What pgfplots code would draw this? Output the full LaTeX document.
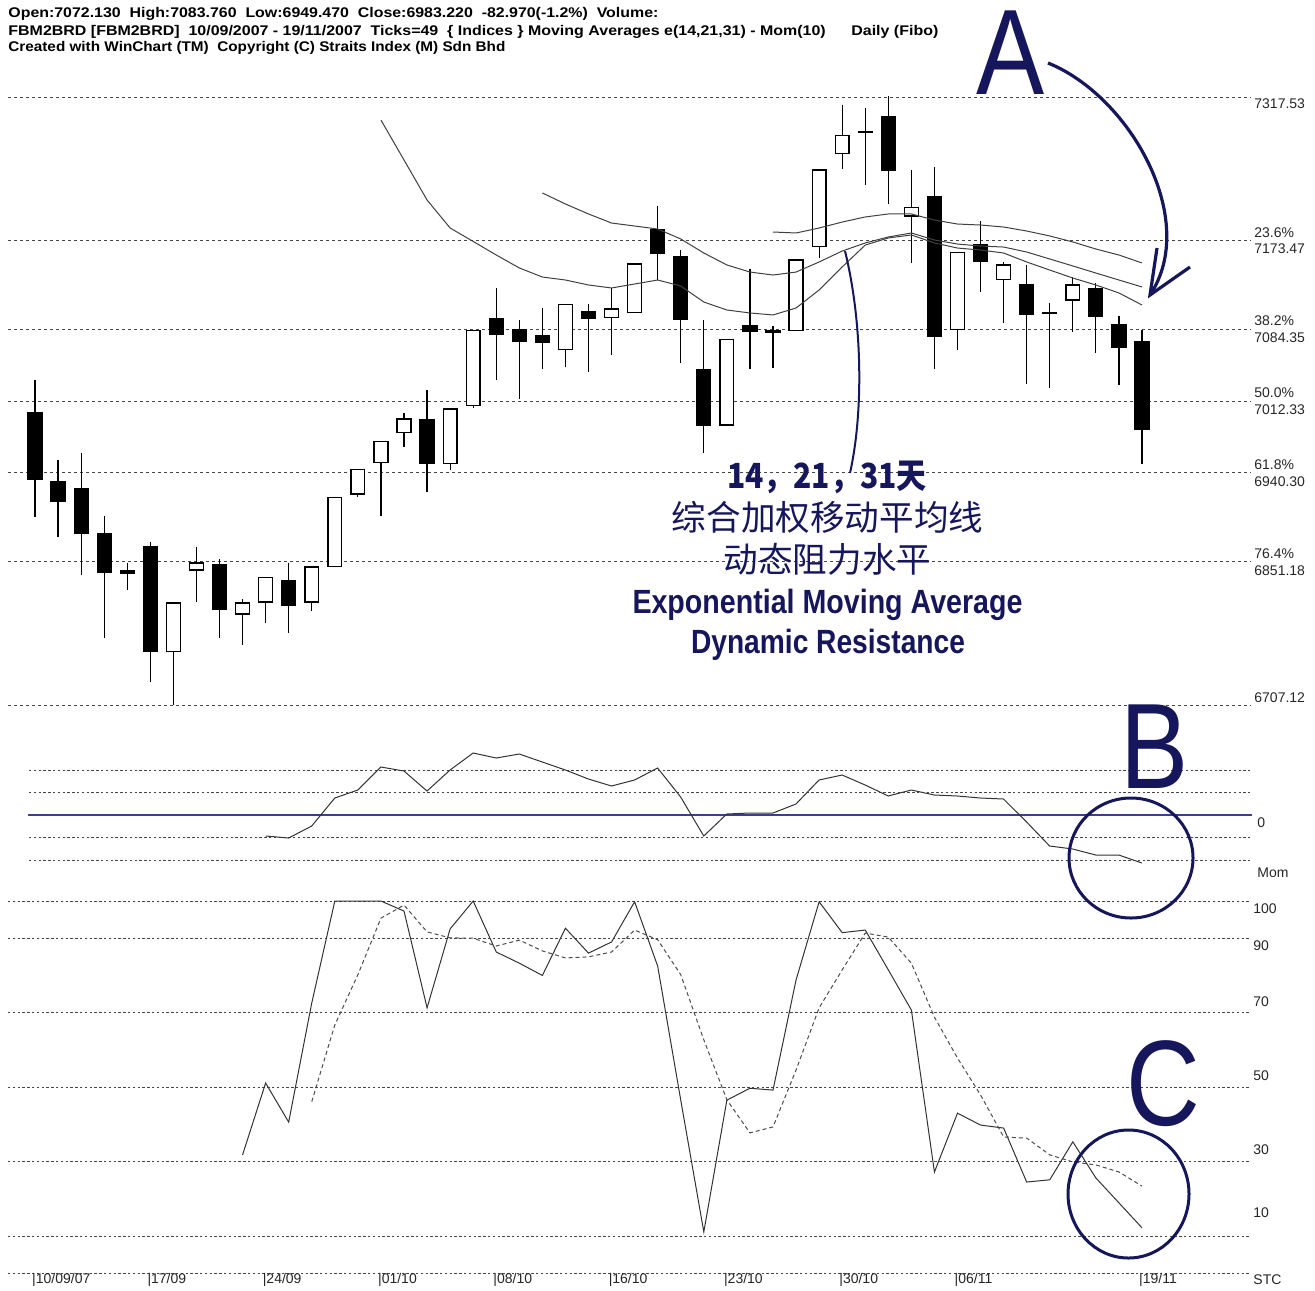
\documentclass[border=0pt]{standalone}
\usepackage{pgfplots}
\usepackage{pgfplotstable}
\pgfplotsset{compat=1.18}
\usepackage{graphicx}
\usepackage{fontspec}
\setmainfont{Liberation Sans}
\newfontfamily\cjk{Noto Sans CJK SC}
\definecolor{navy}{RGB}{22,22,92}
\definecolor{zline}{RGB}{62,62,140}
\definecolor{gridc}{RGB}{70,70,70}

\pgfplotstableread{
i O H L C
0 7001.6 7033.4 6896.1 6933.0
1 6932.0 6953.1 6876.1 6910.9
2 6925.0 6960.1 6837.6 6878.8
3 6879.8 6897.1 6774.7 6839.9
4 6842.6 6850.0 6822.6 6838.6
5 6867.0 6870.7 6730.5 6760.6
6 6760.6 6809.5 6707.1 6809.5
7 6842.6 6866.0 6810.5 6849.7
8 6848.7 6853.7 6774.4 6802.5
9 6798.5 6813.5 6767.3 6809.5
10 6810.5 6834.9 6789.4 6834.9
11 6832.6 6850.0 6779.7 6806.8
12 6810.5 6845.6 6801.8 6845.6
13 6845.9 6915.2 6845.9 6915.2
14 6918.9 6943.7 6916.2 6943.7
15 6950.4 6971.4 6897.1 6971.4
16 6980.9 6999.9 6966.4 6994.2
17 6994.2 7023.3 6921.2 6948.7
18 6949.7 7004.3 6943.0 7004.3
19 7007.6 7082.9 7005.6 7082.9
20 7095.3 7126.0 7033.4 7078.6
21 7084.6 7093.6 7014.3 7071.2
22 7078.6 7105.4 7044.1 7070.2
23 7064.2 7109.4 7046.7 7109.4
24 7102.7 7109.4 7041.1 7094.6
25 7096.3 7125.4 7058.5 7104.7
26 7101.0 7149.8 7101.0 7149.8
27 7185.0 7208.1 7133.8 7159.9
28 7158.2 7163.9 7050.7 7093.6
29 7044.4 7093.6 6959.8 6987.5
30 6988.2 7074.2 6988.2 7074.2
31 7088.6 7144.5 7044.1 7081.9
32 7083.6 7087.6 7045.1 7080.9
33 7082.9 7153.9 7082.9 7153.9
34 7167.2 7244.2 7155.6 7244.2
35 7261.0 7309.5 7244.9 7278.6
36 7282.0 7306.2 7229.2 7282.7
37 7298.4 7318.5 7209.8 7243.5
38 7198.0 7244.2 7150.5 7206.8
39 7218.1 7246.9 7044.1 7076.9
40 7084.3 7161.6 7063.5 7161.6
41 7169.9 7193.0 7122.0 7151.5
42 7134.5 7152.1 7090.3 7148.8
43 7129.8 7148.8 7029.4 7098.6
44 7101.3 7111.0 7025.6 7099.9
45 7113.7 7136.5 7081.9 7128.8
46 7125.4 7131.1 7060.2 7096.9
47 7089.3 7097.6 7028.4 7065.2
48 7072.13 7083.76 6949.47 6983.22
}\candles

\pgfplotstableread{
i v
15 7294.4
16 7254.3
17 7214.1
18 7186.0
19 7172.5
20 7158.9
21 7145.9
22 7136.8
23 7133.8
24 7128.8
25 7125.8
26 7129.8
27 7133.8
28 7127.8
29 7111.7
30 7103.7
31 7100.7
32 7098.7
33 7105.7
34 7123.8
35 7146.9
36 7168.9
37 7176.0
38 7179.0
39 7171.0
40 7165.9
41 7163.9
42 7160.9
43 7151.9
44 7143.8
45 7135.8
46 7128.8
47 7120.8
48 7108.7
}\emaA

\pgfplotstableread{
i v
22 7221.2
23 7210.1
24 7200.1
25 7191.0
26 7188.0
27 7185.0
28 7175.0
29 7160.9
30 7148.9
31 7141.8
32 7138.8
33 7141.8
34 7151.9
35 7162.9
36 7171.0
37 7177.0
38 7181.0
39 7174.0
40 7169.9
41 7167.9
42 7166.9
43 7161.9
44 7154.9
45 7147.9
46 7140.8
47 7133.8
48 7126.8
}\emaB

\pgfplotstableread{
i v
32 7182.0
33 7181.0
34 7186.0
35 7192.0
36 7197.1
37 7200.1
38 7200.1
39 7194.0
40 7190.0
41 7189.0
42 7187.0
43 7183.0
44 7178.0
45 7172.0
46 7164.9
47 7158.9
48 7150.9
}\emaC

\pgfplotstableread{
i v
10 -84
11 -92
12 -44
13 68
14 100
15 192
16 176
17 96
18 180
19 248
20 228
21 244
22 212
23 180
24 144
25 116
26 140
27 188
28 72
29 -84
30 4
31 8
32 8
33 44
34 140
35 160
36 120
37 76
38 100
39 80
40 76
41 68
42 64
43 -28
44 -124
45 -136
46 -160
47 -160
48 -192
}\mom

\pgfplotstableread{
i v
9 31.8
10 51.1
11 40.6
12 72.6
13 100
14 100
15 100
16 97.3
17 71.3
18 92.5
19 100
20 86.3
21 83.3
22 80.0
23 92.7
24 86.0
25 89.0
26 99.8
27 82.5
28 46.5
29 11.1
30 46.5
31 49.7
32 49.2
33 78.8
34 99.8
35 91.5
36 92.2
37 81.5
38 70.7
39 27.2
40 43.0
41 39.8
42 39.0
43 24.5
44 25.1
45 35.3
46 25.6
47 18.9
48 12.2
}\stk

\pgfplotstableread{
i v
12 46.1
13 66.7
14 80.2
15 95.4
16 98.9
17 91.7
18 90.1
19 90.0
20 87.9
21 89.5
22 86.6
23 84.7
24 85.0
25 86.3
26 92.2
27 89.6
28 80.2
29 62.7
30 46.6
31 37.7
32 39.3
33 54.6
34 71.3
35 81.5
36 91.4
37 90.3
38 83.3
39 68.8
40 57.8
41 47.9
42 36.6
43 36.3
44 31.8
45 29.9
46 29.1
47 27.2
48 23.4
}\std

\pgfplotsset{
  panel/.style={scale only axis, anchor=north west, axis line style={draw=none},
    xtick=\empty, yticklabel={\relax}, major tick length=0pt, ymajorgrids, clip=false},
  body/.style={draw=none, mark=none, forget plot, restrict x to domain=-5:60,
    error bars/.cd, y dir=minus, y explicit, error mark=none},
}

\begin{document}
\begin{tikzpicture}[x=1pt,y=1pt]
\path[use as bounding box] (0,0) rectangle (657.5,-645);

% header
\begin{scope}[every node/.style={anchor=base west, inner sep=0pt, font=\fontsize{7}{8}\selectfont\bfseries}]
\node at (4,-8.75) {\resizebox{325pt}{\height}{Open:7072.130\ \ High:7083.760\ \ Low:6949.470\ \ Close:6983.220\ \ -82.970(-1.2\%)\ \ Volume:}};
\node at (4,-17.5) {\resizebox{465pt}{\height}{FBM2BRD [FBM2BRD]\ \ 10/09/2007 - 19/11/2007\ \ Ticks=49\ \ \{ Indices \} Moving Averages e(14,21,31) - Mom(10)\hspace{1.6em}Daily (Fibo)}};
\node at (4,-25.75) {\resizebox{248.5pt}{\height}{Created with WinChart (TM)\ \ Copyright (C) Straits Index (M) Sdn Bhd}};
\end{scope}

% price panel
\begin{axis}[panel, at={(4pt,-48.5pt)}, width=621pt, height=304pt,
  xmin=-1.171, xmax=52.689, ymin=6707.12, ymax=7317.53,
  ytick={6707.12,6851.18,6940.30,7012.33,7084.35,7173.47,7317.53},
  major grid style={gridc, line width=0.5pt, dash pattern=on 1.6pt off 1.4pt}]
% wicks
\addplot[body, error bar style={line width=0.6pt, draw=black}]
  table[x=i, y=H, y error minus expr=\thisrow{H}-\thisrow{L}] {\candles};
% black bodies
\addplot[body, error bar style={line width=7.6pt, draw=black}]
  table[x expr={\thisrow{i}+200*(\thisrow{C}>\thisrow{O})}, y=O, y error minus expr=\thisrow{O}-\thisrow{C}] {\candles};
% white bodies: outline then fill
\addplot[body, error bar style={line width=7.6pt, draw=black}]
  table[x expr={\thisrow{i}+200*(\thisrow{C}<\thisrow{O})}, y expr=\thisrow{C}+0.7, y error minus expr=\thisrow{C}-\thisrow{O}+1.4] {\candles};
\addplot[body, error bar style={line width=6.2pt, draw=white}]
  table[x expr={\thisrow{i}+200*(\thisrow{C}<\thisrow{O})}, y expr=\thisrow{C}-0.7, y error minus expr={max(\thisrow{C}-\thisrow{O}-1.4,0)}] {\candles};
% EMAs
\addplot[black!75, line width=0.5pt] table[x=i, y=v] {\emaA};
\addplot[black!75, line width=0.5pt] table[x=i, y=v] {\emaB};
\addplot[black!75, line width=0.5pt] table[x=i, y=v] {\emaC};
\end{axis}

% momentum panel
\begin{axis}[panel, at={(14.5pt,-352.5pt)}, width=610.5pt, height=97.5pt,
  xmin=-0.2602, xmax=52.689, ymin=-340, ymax=440,
  ytick={-180,-90,90,180},
  major grid style={gridc, line width=0.5pt, dash pattern=on 1.2pt off 1.2pt}]
\addplot[zline, line width=1.2pt] coordinates {(-0.30,0) (52.78,0)};
\addplot[black!80, line width=0.5pt] table[x=i, y=v] {\mom};
\end{axis}

% stochastic panel
\begin{axis}[panel, at={(4pt,-450.5pt)}, width=621pt, height=186.1pt,
  xmin=-1.171, xmax=52.689, ymin=0, ymax=100,
  ytick={0,10,30,50,70,90,100},
  major grid style={gridc, line width=0.5pt, dash pattern=on 1.2pt off 1.2pt}]
\addplot[black!80, line width=0.5pt] table[x=i, y=v] {\stk};
\addplot[black!70, line width=0.5pt, dash pattern=on 2pt off 1.5pt] table[x=i, y=v] {\std};
\begin{scope}[every node/.style={anchor=west, inner sep=0pt, xshift=-1.6pt, font=\fontsize{7}{8}\selectfont, text=black!85}]
\node at (axis cs:0,-1.83) {|10/09/07};
\node at (axis cs:5,-1.83) {|17/09};
\node at (axis cs:10,-1.83) {|24/09};
\node at (axis cs:15,-1.83) {|01/10};
\node at (axis cs:20,-1.83) {|08/10};
\node at (axis cs:25,-1.83) {|16/10};
\node at (axis cs:30,-1.83) {|23/10};
\node at (axis cs:35,-1.83) {|30/10};
\node at (axis cs:40,-1.83) {|06/11};
\node at (axis cs:48,-1.83) {|19/11};
\end{scope}
\end{axis}

% right labels
\begin{scope}[every node/.style={anchor=west, inner sep=0pt, font=\fontsize{7}{8}\selectfont, text=black!85}]
\node at (627,-52) {7317.53};
\node at (627,-116.5) {23.6\%};
\node at (627,-124.5) {7173.47};
\node at (627,-160.5) {38.2\%};
\node at (627,-169) {7084.35};
\node at (627,-196.5) {50.0\%};
\node at (627,-205) {7012.33};
\node at (627,-232.5) {61.8\%};
\node at (627,-241) {6940.30};
\node at (627,-277) {76.4\%};
\node at (627,-285.5) {6851.18};
\node at (627,-349) {6707.12};
\node at (628.5,-411.5) {0};
\node at (628.5,-436.5) {Mom};
\node at (626.5,-454.5) {100};
\node at (626.5,-473) {90};
\node at (626.5,-501) {70};
\node at (626.5,-538) {50};
\node at (626.5,-575) {30};
\node at (626.5,-606.5) {10};
\node at (626.5,-640) {STC};
\end{scope}

% annotations
\node[navy, inner sep=0pt] at (505.5,-26.5) {\scalebox{0.84}[1]{\fontsize{60.8}{60}\selectfont A}};
\node[navy, inner sep=0pt] at (577.25,-373.25) {\scalebox{0.84}[1]{\fontsize{60.8}{60}\selectfont B}};
\node[navy, inner sep=0pt] at (581.75,-542) {\scalebox{0.84}[1]{\fontsize{60.8}{60}\selectfont C}};
\draw[navy, line width=1.5pt] (565.5,-429) ellipse [x radius=31, y radius=30];
\draw[navy, line width=1.5pt] (564.25,-597) ellipse [x radius=30.25, y radius=32];
\draw[navy, line width=1.6pt] (524,-31.5) .. controls (565,-48) and (600,-110) .. (575,-147.5);
\draw[navy, line width=1.6pt, line join=miter] (578.5,-124) -- (575,-147.5) -- (595,-133.5);
\draw[navy, line width=1pt] (422.5,-125.5) .. controls (431,-160) and (432,-205) .. (425,-236.5);

\node[navy, anchor=base, inner sep=0pt] at (413.5,-244) {\resizebox{100pt}{\height}{\cjk\bfseries\fontsize{17.3}{18}\selectfont 14，21，31天}};
\node[navy, anchor=base, inner sep=0pt] at (413.75,-265.3) {\cjk\fontsize{17.3}{18}\selectfont 综合加权移动平均线};
\node[navy, anchor=base, inner sep=0pt] at (413.75,-286.3) {\cjk\fontsize{17.3}{18}\selectfont 动态阻力水平};
\node[navy, anchor=base, inner sep=0pt] at (413.75,-306.6) {\resizebox{195pt}{\height}{\bfseries\fontsize{16.8}{18}\selectfont Exponential Moving Average}};
\node[navy, anchor=base, inner sep=0pt] at (414,-326.5) {\resizebox{137pt}{\height}{\bfseries\fontsize{16.8}{18}\selectfont Dynamic Resistance}};
\end{tikzpicture}
\end{document}
